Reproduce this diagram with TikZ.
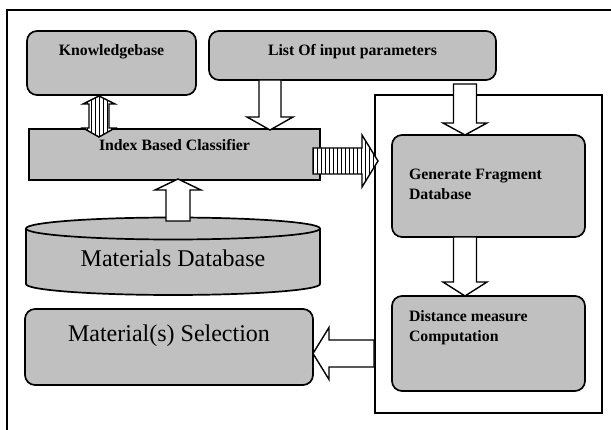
\documentclass[tikz,border=0pt]{standalone}
\usepackage{xcolor}
\usepackage{fontspec}
\setmainfont{Liberation Serif}
\usepackage{tikz}
\usetikzlibrary{calc}

\definecolor{boxgray}{RGB}{192,192,192}
\newcommand{\boxfont}{\bfseries\fontsize{15.8}{19.5}\selectfont}
\newcommand{\bigfont}{\fontsize{24}{28}\selectfont}

% block arrow: [style]{tail}{tip}{shaft half width}{head half width}{head length}
\newcommand{\blockarrow}[6][]{%
    \coordinate (ba) at ($(#3)!#6!(#2)$);
    \draw[#1] ($(#2)!#4!90:(#3)$) -- ($(ba)!#4!90:(#3)$) -- ($(ba)!#5!90:(#3)$) -- (#3)
        -- ($(ba)!#5!-90:(#3)$) -- ($(ba)!#4!-90:(#3)$) -- ($(#2)!#4!-90:(#3)$) -- cycle;}

\tikzset{
    grbox/.style={draw, line width=1.7pt, fill=boxgray, inner sep=0pt, font=\boxfont},
    rbox/.style={grbox, rounded corners=10pt},
    hollow/.style={draw, fill=white, line width=1.4pt, line join=miter},
    striped/.style={hollow, path picture={
        \foreach \s in {-40,-36,...,40}
            \draw[line width=0.9pt] ([xshift=\s pt]path picture bounding box.north)
                -- ([xshift=\s pt]path picture bounding box.south);}}
}

\begin{document}
\begin{tikzpicture}[x=1pt,y=-1pt]
    \useasboundingbox (0,0) rectangle (611,430);
    \draw[line width=1.4pt] (7,430) -- (7,10) -- (611,10);

    \node[rbox, minimum width=169pt, minimum height=64pt, text height=25pt, text depth=39pt] (kb) at (111.5,63) {Knowledgebase};
    \node[rbox, minimum width=287pt, minimum height=49pt, text height=25pt, text depth=24pt] (list) at (352.5,55.5) {List Of input parameters};
    \node[grbox, minimum width=291pt, minimum height=51pt, text height=22pt, text depth=29pt] (ibc) at (174.5,154.5) {Index Based Classifier};

    % materials database cylinder
    \draw[line width=1.7pt, fill=boxgray] (26,228.5) -- (26,284)
        arc[start angle=180, end angle=360, x radius=147pt, y radius=11pt] -- (320,228.5)
        arc[start angle=0, end angle=180, x radius=147pt, y radius=11pt] -- cycle;
    \draw[line width=1.7pt] (26,228.5) arc[start angle=180, end angle=360, x radius=147pt, y radius=11pt];
    \node[inner sep=0pt, font=\bigfont, minimum width=294pt, minimum height=77pt, text height=49pt, text depth=28pt] (mdb) at (173,256.5) {Materials Database};

    \node[rbox, font=\bigfont, minimum width=288pt, minimum height=76pt, text height=33pt, text depth=43pt] (ms) at (169,347) {Material(s) Selection};

    \node[draw, line width=1.3pt, inner sep=0pt, minimum width=227pt, minimum height=318pt] (frame) at (488.5,254) {};
    \node[rbox, minimum width=193pt, minimum height=102pt, text height=45pt, text depth=57pt] (gfd) at (488.5,186)
        {\parbox[t]{159pt}{\raggedright Generate Fragment\\Database}};
    \node[rbox, minimum width=193pt, minimum height=95pt, text height=26pt, text depth=69pt] (dmc) at (488.5,343.5)
        {\parbox[t]{159pt}{\raggedright Distance measure\\Computation}};

    % arrows
    \coordinate (lt) at (270,80);
    \coordinate (lh) at (270,130);
    \coordinate (dt) at (178,221);
    \coordinate (dh) at (178,179);
    \coordinate (gt) at (465,84);
    \coordinate (gh) at (465,135);
    \coordinate (ct) at (465,237);
    \coordinate (ch) at (465,296);
    \coordinate (st) at (374,353.5);
    \coordinate (sh) at (313,353.5);
    \coordinate (it) at (313,161);
    \coordinate (ih) at (378,161);
    \blockarrow[hollow]{lt}{lh}{11pt}{23pt}{13pt}
    \blockarrow[hollow]{dt}{dh}{12pt}{23pt}{11pt}
    \blockarrow[hollow]{gt}{gh}{11.5pt}{22pt}{12pt}
    \blockarrow[hollow]{ct}{ch}{11.5pt}{22pt}{14pt}
    \blockarrow[hollow]{st}{sh}{13.5pt}{26pt}{16pt}
    \blockarrow[striped]{it}{ih}{13pt}{26pt}{16pt}
    \draw[striped] (99,96) -- (115,104) -- (109,104) -- (109,128) -- (115,128) -- (99,137)
        -- (83,128) -- (89,128) -- (89,104) -- (83,104) -- cycle;
\end{tikzpicture}
\end{document}
